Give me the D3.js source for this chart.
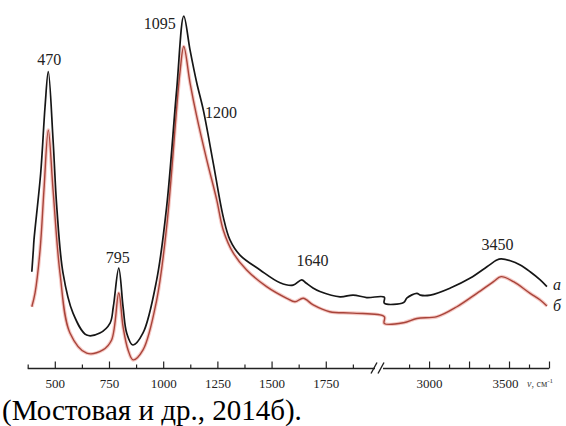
<!DOCTYPE html>
<html>
<head>
<meta charset="utf-8">
<script src="https://cdn.jsdelivr.net/npm/d3@7"></script>
<style>
  body { margin: 0; background: #fff; }
  svg text { font-family: "Liberation Serif", "LiberationSerif", "Times New Roman", "DejaVu Serif", serif; }
</style>
</head>
<body>
<div id="chart"></div>
<script>
//IR spectra, curve a (black) and curve б (red), arbitrary absorbance units

var waveA = [394, 401, 404, 435, 455, 470, 492, 509, 538, 584, 647, 708, 755, 770, 795, 815, 832, 860, 907, 970,
  1016, 1062, 1095, 1124, 1155, 1185, 1231, 1277, 1308, 1354, 1447, 1539, 1599, 1639, 1659, 1691, 1723, 1816, 1876, 1939, 2020,
  2720, 2841, 2862, 2924, 2945, 3008, 3133, 3258, 3362, 3424, 3450, 3508, 3570, 3632, 3695, 3737];
var absA = [27.2, 33.3, 36.2, 55.1, 73.8, 83.7, 64.4, 45.6, 26.8, 15.5, 9.3, 9.9, 12.7, 17.3, 28.2, 17.2, 9.8, 6.5, 9.9, 24.9,
  45.6, 78.5, 99.4, 89.8, 80.5, 72.9, 57.9, 42.7, 36.2, 31.9, 27.7, 24.1, 23.4, 24.9, 24.0, 22.6, 21.6, 20.1, 20.6, 19.9, 20.0,
  18.3, 18.5, 19.8, 21.1, 20.6, 20.6, 22.6, 25.4, 28.6, 30.5, 30.8, 30.3, 29.1, 27.2, 24.9, 23.0];

var waveB = [394, 409, 432, 450, 470, 492, 524, 570, 647, 722, 762, 795, 815, 838, 861, 907, 970, 1016, 1077, 1095,
  1124, 1155, 1201, 1247, 1277, 1323, 1385, 1477, 1570, 1608, 1646, 1692, 1768, 1875, 2020,
  2720, 2841, 2924, 3049, 3174, 3299, 3403, 3450, 3528, 3632, 3695, 3737];
var absB = [17.3, 21.2, 33.3, 50.3, 67.2, 50.3, 26.8, 9.9, 4.2, 5.1, 7.9, 21.2, 11.6, 5.1, 2.3, 5.1, 19.2, 39.9, 83.3, 90.8,
  80.5, 71.0, 58.8, 47.5, 39.0, 32.5, 27.7, 23.0, 19.7, 18.7, 19.7, 17.8, 15.9, 15.5, 14.5,
  12.6, 12.8, 14.0, 14.5, 17.3, 21.1, 24.4, 25.8, 24.4, 21.1, 19.2, 17.5];

var peakWaves = [470, 795, 1095, 1200, 1640, 3450];
var peakLabels = ["470", "795", "1095", "1200", "1640", "3450"];
var peakLevels = [85.5, 29.7, 95.9, 70.6, 28.7, 33.3];

var majorTicks = [500, 750, 1000, 1250, 1500, 1750, 3000, 3250, 3500, 3750];
var minorTicks = [375, 625, 875, 1125, 1375, 1625, 1875, 2875, 3125, 3375, 3625];
var tickLabels = [500, 750, 1000, 1250, 1500, 1750, 3000, 3500];

var seriesNames = ["a", "б"];
var caption = "(Мостовая и др., 2014б).";

var width = 566;
var height = 426;
var svg = d3.select("#chart").append("svg")
  .attr("width", width).attr("height", height);

//broken x axis: two linear pieces joined at the break
var x = d3.scaleLinear()
  .domain([375, 2020, 2720, 3750])
  .range([27.7, 384.3, 384.3, 549]);
var y = d3.scaleLinear().domain([0, 100]).range([368, 14]);
var axisY = 368.5;

var line = d3.line()
  .x(d => x(d[0]))
  .y(d => y(d[1]))
  .curve(d3.curveCatmullRom.alpha(0.5));

var dataA = waveA.map((w, i) => [w, absA[i]]);
var dataB = waveB.map((w, i) => [w, absB[i]]);

//red curve has a soft pink halo in the scan
svg.append("path").datum(dataB)
  .attr("d", line).attr("fill", "none")
  .attr("stroke", "#f3bcb6").attr("stroke-width", 3.6).attr("stroke-opacity", 0.8);
svg.append("path").datum(dataB)
  .attr("d", line).attr("fill", "none")
  .attr("stroke", "#a8443a").attr("stroke-width", 1.4);
svg.append("path").datum(dataA)
  .attr("d", line).attr("fill", "none")
  .attr("stroke", "#161616").attr("stroke-width", 1.7);

//axis: ticks go up, labels below
var gAxis = svg.append("g").attr("transform", "translate(0," + axisY + ")");
gAxis.append("g")
  .call(d3.axisBottom(x).tickValues(minorTicks).tickSize(-4).tickFormat(""))
  .call(g => g.select(".domain").remove());
gAxis.append("g")
  .call(d3.axisBottom(x).tickValues(majorTicks).tickSize(-7).tickPadding(10)
    .tickFormat(d => tickLabels.indexOf(d) >= 0 ? d : ""))
  .call(g => g.select(".domain").remove());
gAxis.selectAll("g").attr("font-family", null);
gAxis.selectAll(".tick line").attr("stroke", "#222").attr("stroke-width", 1.2);
gAxis.selectAll(".tick text")
  .attr("font-size", 13).attr("fill", "#222")
  .attr("dx", d => d === 3500 ? -4 : 0);

gAxis.append("line").attr("x1", x(375)).attr("x2", 375).attr("stroke", "#222").attr("stroke-width", 1.3);
gAxis.append("line").attr("x1", 383).attr("x2", x(3750)).attr("stroke", "#222").attr("stroke-width", 1.3);
gAxis.append("path").attr("d", "M371,5L377,-6M378,5L384,-6")
  .attr("stroke", "#222").attr("stroke-width", 1.4).attr("fill", "none");

var unit = svg.append("text").attr("x", 527).attr("y", axisY + 18)
  .attr("font-size", 10).attr("fill", "#444");
unit.append("tspan").attr("font-style", "italic").text("ν");
unit.append("tspan").text(", см");
unit.append("tspan").attr("font-size", 7).attr("dy", -4).text("-1");

//peak labels
var peakDx = [1, -1, -8, -1.5, 10.5, -3.5];
var peakAnchor = ["middle", "middle", "end", "start", "middle", "middle"];
svg.selectAll("text.peak")
  .data(peakWaves).enter().append("text")
  .attr("class", "peak")
  .attr("x", (d, i) => x(d) + peakDx[i])
  .attr("y", (d, i) => y(peakLevels[i]))
  .attr("text-anchor", (d, i) => peakAnchor[i])
  .attr("font-size", 16).attr("fill", "#222")
  .text((d, i) => peakLabels[i]);

//series names at the right end
var lastA = dataA[dataA.length - 1], lastB = dataB[dataB.length - 1];
svg.append("text").attr("x", x(lastA[0]) + 6).attr("y", y(lastA[1]) + 3)
  .attr("font-size", 16).attr("font-style", "italic").attr("fill", "#222").text(seriesNames[0]);
svg.append("text").attr("x", x(lastB[0]) + 6).attr("y", y(lastB[1]) + 5)
  .attr("font-size", 16).attr("font-style", "italic").attr("fill", "#222").text(seriesNames[1]);

svg.append("text").attr("x", 2).attr("y", 420)
  .attr("font-size", 29).attr("fill", "#000").text(caption);
</script>
</body>
</html>
